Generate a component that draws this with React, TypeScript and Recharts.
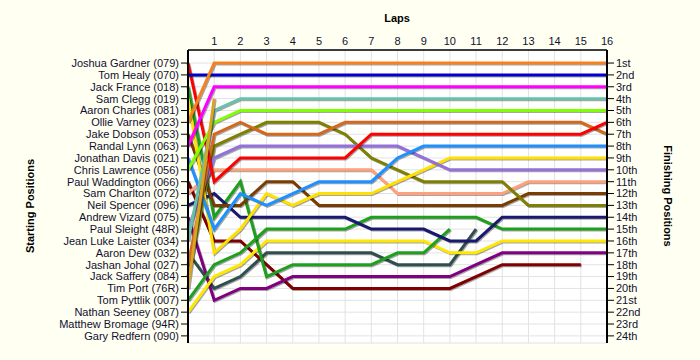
import { LineChart, Line, XAxis, YAxis, CartesianGrid } from 'recharts'

const laps = [0, 1, 2, 3, 4, 5, 6, 7, 8, 9, 10, 11, 12, 13, 14, 15, 16]
const lapTicks = [1, 2, 3, 4, 5, 6, 7, 8, 9, 10, 11, 12, 13, 14, 15, 16]

const drivers = [
  'Joshua Gardner (079)',
  'Tom Healy (070)',
  'Jack France (018)',
  'Sam Clegg (019)',
  'Aaron Charles (081)',
  'Ollie Varney (023)',
  'Jake Dobson (053)',
  'Randal Lynn (063)',
  'Jonathan Davis (021)',
  'Chris Lawrence (056)',
  'Paul Waddington (066)',
  'Sam Charlton (072)',
  'Neil Spencer (096)',
  'Andrew Vizard (075)',
  'Paul Sleight (48R)',
  'Jean Luke Laister (034)',
  'Aaron Dew (032)',
  'Jashan Johal (027)',
  'Jack Saffery (084)',
  'Tim Port (76R)',
  'Tom Pyttlik (007)',
  'Nathan Seeney (087)',
  'Matthew Bromage (94R)',
  'Gary Redfern (090)',
]

const finishing = [
  '1st', '2nd', '3rd', '4th', '5th', '6th', '7th', '8th', '9th', '10th', '11th', '12th',
  '13th', '14th', '15th', '16th', '17th', '18th', '19th', '20th', '21st', '22nd', '23rd', '24th',
]

const positionTicks = finishing.map((_, i) => i + 1)

const _ = null

// position of each driver per lap (lap 0 = grid)
const gardner = [1, 11, 9, 9, 9, 9, 9, 7, 7, 7, 7, 7, 7, 7, 7, 7, 6]
const healy = [2, 2, 2, 2, 2, 2, 2, 2, 2, 2, 2, 2, 2, 2, 2, 2, 2]
const france = [3, 14, 11, 19, 18, 18, 18, 18, 17, 17, 15, _, _, _, _, _, _]
const clegg = [4, 17, 15, 12, 13, 12, 12, 12, 11, 10, 9, 9, 9, 9, 9, 9, 9]
const varney = [6, 1, 1, 1, 1, 1, 1, 1, 1, 1, 1, 1, 1, 1, 1, 1, 1]
const dobson = [7, 13, 13, 11, 11, 13, 13, 13, 13, 13, 13, 13, 13, 12, 12, 12, 12]
const lynn = [8, 3, 3, 3, 3, 3, 3, 3, 3, 3, 3, 3, 3, 3, 3, 3, 3]
const davis = [9, 15, 12, 13, 12, 11, 11, 11, 9, 8, 8, 8, 8, 8, 8, 8, 8]
const lawrence = [10, 6, 5, 5, 5, 5, 5, 5, 5, 5, 5, 5, 5, 5, 5, 5, 5]
const waddington = [11, 16, 16, 18, 20, 20, 20, 20, 20, 20, 20, 19, 18, 18, 18, 18, _]
const charlton = [12, 10, 10, 10, 10, 10, 10, 10, 12, 12, 12, 12, 12, 11, 11, 11, 11]
const spencer = [13, 12, 14, 14, 14, 14, 14, 15, 15, 15, 16, 16, 14, 14, 14, 14, 14]
const vizard = [14, 21, 20, 20, 19, 19, 19, 19, 19, 19, 19, 18, 17, 17, 17, 17, 17]
const sleight = [15, 9, 8, 8, 8, 8, 8, 8, 8, 9, 10, 10, 10, 10, 10, 10, 10]
const laister = [16, 5, 4, 4, 4, 4, 4, 4, 4, 4, 4, 4, 4, 4, 4, 4, 4]
const dew = [17, 20, 19, 17, 17, 17, 17, 17, 18, 18, 18, 15, _, _, _, _, _]
const johal = [18, 7, 6, 7, 7, 7, 6, 6, 6, 6, 6, 6, 6, 6, 6, 6, 7]
const saffery = [19, 8, 7, 6, 6, 6, 7, 9, 10, 11, 11, 11, 11, 13, 13, 13, 13]
const port = [20, 4, _, _, _, _, _, _, _, _, _, _, _, _, _, _, _]
const pyttlik = [21, 18, 17, 15, 15, 15, 15, 14, 14, 14, 14, 14, 15, 15, 15, 15, 15]
const seeney = [22, 19, 18, 16, 16, 16, 16, 16, 16, 16, 17, 17, 16, 16, 16, 16, 16]

const series = [
  { key: 'dew', values: dew, color: '#2f4f4f' },
  { key: 'waddington', values: waddington, color: '#800000' },
  { key: 'vizard', values: vizard, color: '#800080' },
  { key: 'seeney', values: seeney, color: '#ffe800' },
  { key: 'france', values: france, color: '#1ea01e' },
  { key: 'pyttlik', values: pyttlik, color: '#1ea01e' },
  { key: 'spencer', values: spencer, color: '#191970' },
  { key: 'dobson', values: dobson, color: '#7a3c00' },
  { key: 'charlton', values: charlton, color: '#ffa07a' },
  { key: 'saffery', values: saffery, color: '#808000' },
  { key: 'clegg', values: clegg, color: '#ffe000' },
  { key: 'sleight', values: sleight, color: '#9370db' },
  { key: 'davis', values: davis, color: '#1e90ff' },
  { key: 'johal', values: johal, color: '#d2691e' },
  { key: 'gardner', values: gardner, color: '#ff0000' },
  { key: 'lawrence', values: lawrence, color: '#80ff00' },
  { key: 'laister', values: laister, color: '#66c2a8' },
  { key: 'port', values: port, color: '#daa520' },
  { key: 'lynn', values: lynn, color: '#ff00ff' },
  { key: 'healy', values: healy, color: '#0000cc' },
  { key: 'varney', values: varney, color: '#f5821f' },
]

const data = laps.map((lap, i) => {
  const row: Record<string, number | null> = { lap }
  series.forEach((s) => {
    row[s.key] = s.values[i]
  })
  return row
})

const tickFont = { fontSize: 11, fill: '#101030', fontFamily: 'Liberation Sans, Arial, sans-serif' }
const titleStyle = { fontSize: 11, fontWeight: 700, fill: '#000', fontFamily: 'Liberation Sans, Arial, sans-serif' }

export default function App() {
  return (
    <div style={{ position: 'absolute', left: 0, top: 0, width: 700, height: 360, background: '#fffff2' }}>
      <style>{'.line-shadow .recharts-line-curve{filter:drop-shadow(1px 1.5px 0.6px rgba(0,0,0,0.35))}'}</style>
      <LineChart width={700} height={360} data={data} margin={{ top: 20, right: 8, bottom: 17, left: 8 }}>
        <CartesianGrid yAxisId="left" stroke="#e2e2e2" fill="#ffffff" />
        <XAxis
          dataKey="lap"
          type="number"
          orientation="top"
          domain={[0, 16]}
          ticks={lapTicks}
          height={30}
          tickLine={false}
          tickSize={0}
          tickMargin={5}
          tick={tickFont}
          axisLine={{ stroke: '#000', strokeWidth: 1.5 }}
        />
        <YAxis
          yAxisId="left"
          type="number"
          domain={[-0.1, 24.6]}
          reversed
          ticks={positionTicks}
          interval={0}
          width={180}
          tickSize={7}
          tickMargin={2}
          tick={tickFont}
          tickFormatter={(v: number) => drivers[v - 1]}
          axisLine={{ stroke: '#000', strokeWidth: 2 }}
          tickLine={{ stroke: '#000' }}
        />
        <YAxis
          yAxisId="right"
          orientation="right"
          type="number"
          domain={[-0.1, 24.6]}
          allowDataOverflow
          reversed
          ticks={positionTicks}
          interval={0}
          width={85}
          tickSize={7}
          tickMargin={2}
          tick={tickFont}
          tickFormatter={(v: number) => finishing[v - 1]}
          axisLine={{ stroke: '#000', strokeWidth: 2 }}
          tickLine={{ stroke: '#000' }}
        />
        {/* carries the finishing axis, drawn invisible */}
        <Line
          yAxisId="right"
          type="linear"
          dataKey="healy"
          stroke="transparent"
          strokeWidth={0}
          dot={false}
          activeDot={false}
          legendType="none"
          isAnimationActive={false}
        />
        {series.map((s) => (
          <Line
            key={s.key}
            className="line-shadow"
            yAxisId="left"
            type="linear"
            dataKey={s.key}
            stroke={s.color}
            strokeWidth={3}
            dot={false}
            activeDot={false}
            isAnimationActive={false}
          />
        ))}
        <text x={397} y={22} textAnchor="middle" style={titleStyle}>Laps</text>
        <text x={34} y={206} textAnchor="middle" transform="rotate(-90 34 206)" style={titleStyle}>
          Starting Positions
        </text>
        <text x={664} y={196} textAnchor="middle" transform="rotate(90 664 196)" style={titleStyle}>
          Finishing Positions
        </text>
      </LineChart>
    </div>
  )
}
